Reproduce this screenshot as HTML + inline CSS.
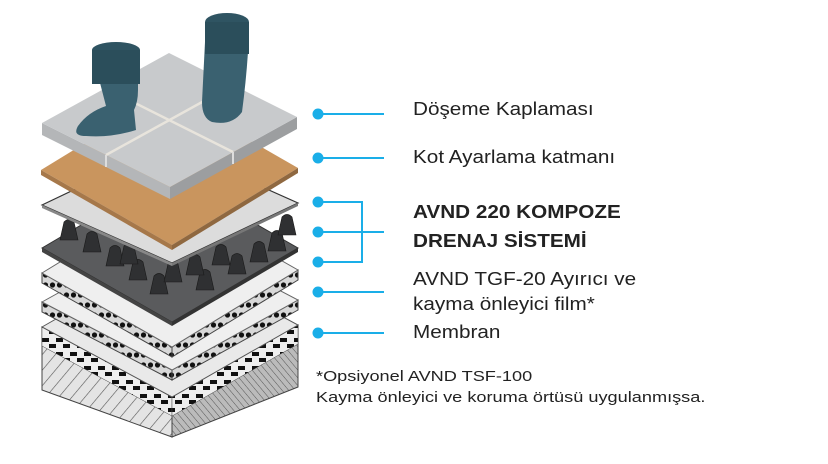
<!DOCTYPE html>
<html><head><meta charset="utf-8"><style>
html,body{margin:0;padding:0;background:#fff;width:828px;height:464px;overflow:hidden}
.t{position:absolute;font-family:"Liberation Sans",sans-serif;color:#222;font-size:18px;line-height:20px;white-space:nowrap;transform:scaleX(1.15);transform-origin:0 0}
.f{font-size:15px;transform:scaleX(1.21)}
.b{font-weight:bold}
</style></head><body>
<svg width="828" height="464" style="position:absolute;left:0;top:0">
<defs>
<pattern id="hatch" width="10" height="10" patternUnits="userSpaceOnUse" patternTransform="rotate(40)">
<rect width="10" height="10" fill="#e4e4e4"/><line x1="0" y1="0" x2="0" y2="10" stroke="#555" stroke-width="1.2"/></pattern>
<pattern id="hatch2" width="5" height="5" patternUnits="userSpaceOnUse" patternTransform="rotate(-40)">
<rect width="5" height="5" fill="#bbb"/><line x1="0" y1="0" x2="0" y2="5" stroke="#555" stroke-width="1"/></pattern>
<pattern id="dots" width="7" height="10" patternUnits="userSpaceOnUse">
<rect width="7" height="10" fill="#d8d8d8"/><circle cx="3.5" cy="5" r="2.6" fill="#111"/></pattern>
<pattern id="chk" width="14" height="14" patternUnits="userSpaceOnUse">
<rect width="14" height="14" fill="#eee"/><rect width="7" height="4" y="2" fill="#111"/><rect x="7" y="8" width="7" height="4" fill="#111"/></pattern>
</defs>
<polygon points="42,327 172,397 172,437 42,390" fill="url(#hatch)" stroke="#444"/>
<polygon points="172,397 298,325 298,387 172,437" fill="url(#hatch2)" stroke="#444"/>
<polygon points="42,327 172,397 172,416 42,346" fill="url(#chk)" stroke="#444" stroke-width=".5"/>
<polygon points="172,397 298,325 298,344 172,416" fill="url(#chk)" stroke="#444" stroke-width=".5"/>
<polygon points="42,327 168,255 298,325 172,397" fill="#e9e9e9" stroke="#555"/>
<polygon points="42,302 172,370 172,380 42,312" fill="url(#dots)" stroke="#444"/>
<polygon points="172,370 298,300 298,310 172,380" fill="url(#dots)" stroke="#444"/>
<polygon points="42,302 168,232 298,300 172,370" fill="#efefef" stroke="#666"/>
<polygon points="42,273 172,347 172,357 42,283" fill="url(#dots)" stroke="#444"/>
<polygon points="172,347 298,270 298,280 172,357" fill="url(#dots)" stroke="#444"/>
<polygon points="42,273 168,196 298,270 172,347" fill="#efefef" stroke="#666"/>
<polygon points="42,248 168,174 298,248 172,322 " fill="#5a5b5d" stroke="#333"/>
<polygon points="42,248 172,322 172,326 42,252" fill="#444"/>
<polygon points="172,322 298,248 298,252 172,326" fill="#333"/>
<g fill="#2f3032" stroke="#1a1a1a" stroke-width=".6">
<path d="M60,240 l4,-18 q5,-5 10,0 l4,18 z"/><path d="M83,252 l4,-18 q5,-5 10,0 l4,18 z"/>
<path d="M106,266 l4,-18 q5,-5 10,0 l4,18 z"/><path d="M129,280 l4,-18 q5,-5 10,0 l4,18 z"/>
<path d="M150,294 l4,-18 q5,-5 10,0 l4,18 z"/><path d="M196,290 l4,-18 q5,-5 10,0 l4,18 z"/>
<path d="M186,275 l4,-18 q5,-5 10,0 l4,18 z"/><path d="M212,265 l4,-18 q5,-5 10,0 l4,18 z"/>
<path d="M228,274 l4,-18 q5,-5 10,0 l4,18 z"/><path d="M250,262 l4,-18 q5,-5 10,0 l4,18 z"/>
<path d="M268,251 l4,-18 q5,-5 10,0 l4,18 z"/><path d="M278,235 l4,-18 q5,-5 10,0 l4,18 z"/>
<path d="M120,264 l4,-18 q5,-5 10,0 l4,18 z"/><path d="M164,282 l4,-18 q5,-5 10,0 l4,18 z"/>
</g>
<polygon points="42,205 168,145 298,203 172,263" fill="#dcdcdc" stroke="#333" stroke-width="1.2"/>
<polygon points="42,205 172,263 172,266 42,208" fill="#888"/>
<polygon points="172,263 298,203 298,206 172,266" fill="#777"/>
<polygon points="41,170 167,93 298,168 172,245" fill="#c9955e"/>
<polygon points="41,170 172,245 172,250 41,175" fill="#a6784a"/>
<polygon points="172,245 298,168 298,173 172,250" fill="#8f6840"/>
<polygon points="42,123 170,187 170,199 42,135" fill="#b4b6b8"/>
<polygon points="170,187 297,117 297,129 170,199" fill="#9c9ea0"/>
<polygon points="42,123 169,53 297,117 170,187" fill="#c8cacc"/>
<line x1="106" y1="155" x2="233" y2="85" stroke="#e8e4dc" stroke-width="2.5"/>
<line x1="105" y1="88" x2="233" y2="152" stroke="#e8e4dc" stroke-width="2.5"/>
<line x1="106" y1="155" x2="106" y2="167" stroke="#ddd" stroke-width="2"/>
<line x1="233" y1="152" x2="233" y2="164" stroke="#ddd" stroke-width="2"/>
<g fill="#2f5462">
<path d="M92,52 q24,-12 46,-2 l0,40 q0,12 -4,20 l2,20 q-25,8 -50,6 q-14,0 -8,-10 q10,-14 28,-20 z" fill="#3a6170"/>
<ellipse cx="116" cy="50" rx="24" ry="8"/>
<rect x="92" y="50" width="48" height="34" fill="#2b4e5b"/>
<path d="M206,22 q22,-14 42,0 l0,30 q-2,30 -6,60 q-10,14 -30,10 q-10,-4 -10,-20 z" fill="#3a6170"/>
<ellipse cx="227" cy="22" rx="22" ry="9"/>
<rect x="205" y="22" width="44" height="32" fill="#2b4e5b"/>
</g>
<g stroke="#1aaee8" stroke-width="2" fill="#1aaee8">
<line x1="318" y1="114" x2="384" y2="114"/><circle cx="318" cy="114" r="4.5"/>
<line x1="318" y1="158" x2="384" y2="158"/><circle cx="318" cy="158" r="4.5"/>
<polyline points="318,202 362,202 362,262 318,262" fill="none"/>
<line x1="318" y1="232" x2="384" y2="232"/>
<circle cx="318" cy="202" r="4.5"/><circle cx="318" cy="232" r="4.5"/><circle cx="318" cy="262" r="4.5"/>
<line x1="318" y1="292" x2="384" y2="292"/><circle cx="318" cy="292" r="4.5"/>
<line x1="318" y1="333" x2="384" y2="333"/><circle cx="318" cy="333" r="4.5"/>
</g>
</svg>
<div class="t" style="left:413px;top:99px">Döşeme Kaplaması</div>
<div class="t" style="left:413px;top:147px">Kot Ayarlama katmanı</div>
<div class="t b" style="left:413px;top:202px">AVND 220 KOMPOZE</div>
<div class="t b" style="left:413px;top:231px">DRENAJ SİSTEMİ</div>
<div class="t" style="left:413px;top:269px">AVND TGF-20 Ayırıcı ve</div>
<div class="t" style="left:413px;top:294px">kayma önleyici film*</div>
<div class="t" style="left:413px;top:322px">Membran</div>
<div class="t f" style="left:316px;top:367px">*Opsiyonel AVND TSF-100</div>
<div class="t f" style="left:316px;top:388px">Kayma önleyici ve koruma örtüsü uygulanmışsa.</div>
</body></html>
